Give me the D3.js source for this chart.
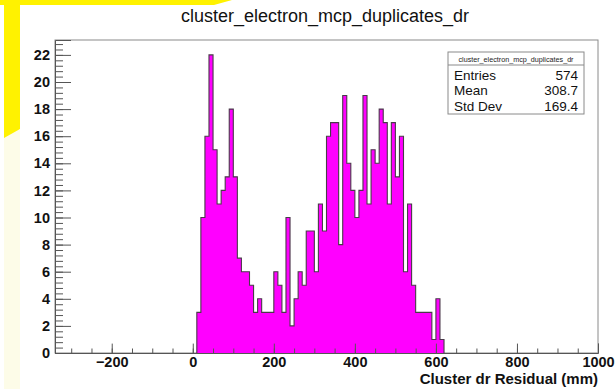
<!DOCTYPE html>
<html>
<head>
<meta charset="utf-8">
<script src="https://cdn.jsdelivr.net/npm/d3@7"></script>
<style>
    body { margin: 0; background: #ffffff; }
    text { font-family: "Liberation Sans", Arial, Helvetica, sans-serif; }
</style>
</head>
<body>
<script>
// histogram bins (lower edge, mm) and counts
const bin_low = [
    10, 20, 30, 40, 50, 60, 70, 80, 90, 100,
    110, 120, 130, 140, 150, 160, 170, 180, 190, 200,
    210, 220, 230, 240, 250, 260, 270, 280, 290, 300,
    310, 320, 330, 340, 350, 360, 370, 380, 390, 400,
    410, 420, 430, 440, 450, 460, 470, 480, 490, 500,
    510, 520, 530, 540, 550, 560, 570, 580, 590, 600,
    610
];
const bin_width = 10;
const counts = [
    3, 10, 16, 22, 15, 11, 12, 13, 18, 13,
    7, 6, 6, 5, 3, 4, 3, 3, 3, 6,
    5, 3, 10, 2, 4, 6, 5, 9, 9, 6,
    11, 9, 16, 17, 17, 8, 19, 14, 12, 10,
    12, 19, 11, 15, 14, 18, 17, 11, 17, 13,
    16, 6, 11, 5, 3, 3, 3, 3, 1, 4,
    1
];
const x_labels = [-200, 0, 200, 400, 600, 800, 1000];
const y_labels = [0, 2, 4, 6, 8, 10, 12, 14, 16, 18, 20, 22];
const stat_names = ["Entries", "Mean", "Std Dev"];
const stat_values = ["574", "308.7", "169.4"];

const title = "cluster_electron_mcp_duplicates_dr";
const x_title = "Cluster dr Residual (mm)";

const width = 615;
const height = 389;
const frame = { left: 55, right: 598, top: 40, bottom: 353 };

const svg = d3
    .select("body")
    .append("svg")
    .attr("width", width)
    .attr("height", height);

// yellow marks in the corner of the screenshot
svg.append("polygon")
    .attr("points", "4,130 20,130 20,389 4,389")
    .attr("fill", "#fdfce8");
svg.append("polygon")
    .attr("points", "0,0 232,0 214,5 20,5 20,129 4,138 4,5 0,5")
    .attr("fill", "#fff200");

svg.append("text")
    .attr("x", 325)
    .attr("y", 22)
    .attr("text-anchor", "middle")
    .attr("font-size", 18)
    .attr("fill", "#111")
    .text(title);

const x = d3.scaleLinear()
    .domain([-340, 1000])
    .range([frame.left, frame.right]);
const y = d3.scaleLinear()
    .domain([0, 23.1])
    .range([frame.bottom, frame.top]);

svg.append("rect")
    .attr("x", frame.left)
    .attr("y", frame.top)
    .attr("width", frame.right - frame.left)
    .attr("height", frame.bottom - frame.top)
    .attr("fill", "white")
    .attr("stroke", "#8a8a8a")
    .attr("stroke-width", 1);

// histogram
const pts = bin_low.map((b, i) => [b, counts[i]]);
const last = bin_low.length - 1;
pts.push([bin_low[last] + bin_width, counts[last]]);

const area = d3.area()
    .x(d => x(d[0]))
    .y0(y(0))
    .y1(d => y(d[1]))
    .curve(d3.curveStepAfter);
const line = d3.line()
    .x(d => x(d[0]))
    .y(d => y(d[1]))
    .curve(d3.curveStepAfter);

svg.append("path")
    .attr("d", area(pts))
    .attr("fill", "#ff00ff");
svg.append("path")
    .attr("d", line([[bin_low[0], 0], ...pts, [bin_low[last] + bin_width, 0]]))
    .attr("fill", "none")
    .attr("stroke", "#4a3a4a")
    .attr("stroke-width", 1.1);

// x axis
const x_minor = d3.range(-300, 1001, 50);
svg.append("g")
    .attr("transform", `translate(0,${frame.bottom})`)
    .call(d3.axisBottom(x).tickValues(x_minor).tickSize(-4.5).tickFormat(""))
    .call(g => g.select(".domain").remove())
    .call(g => g.selectAll("line").attr("stroke", "#555"));
const x_axis = svg.append("g")
    .attr("transform", `translate(0,${frame.bottom})`)
    .call(d3.axisBottom(x).tickValues(x_labels).tickSize(-9.4).tickPadding(4)
        .tickFormat(d => d < 0 ? "\u2212" + Math.abs(d) : d))
    .call(g => g.select(".domain").attr("stroke", "#555"));
x_axis.selectAll("line").attr("stroke", "#555");
x_axis.selectAll("text")
    .attr("font-size", 14.5)
    .attr("font-weight", "bold")
    .attr("fill", "#111")
    .attr("font-family", "Liberation Sans, Arial, sans-serif");

// y axis
const y_minor = d3.range(0, 23.1, 0.4);
svg.append("g")
    .attr("transform", `translate(${frame.left},0)`)
    .call(d3.axisLeft(y).tickValues(y_minor).tickSize(-8).tickFormat(""))
    .call(g => g.select(".domain").remove())
    .call(g => g.selectAll("line").attr("stroke", "#555"));
const y_axis = svg.append("g")
    .attr("transform", `translate(${frame.left},0)`)
    .call(d3.axisLeft(y).tickValues(y_labels).tickSize(-16).tickPadding(5))
    .call(g => g.select(".domain").attr("stroke", "#555"));
y_axis.selectAll("line").attr("stroke", "#555");
y_axis.selectAll("text")
    .attr("font-size", 14.5)
    .attr("font-weight", "bold")
    .attr("fill", "#111")
    .attr("font-family", "Liberation Sans, Arial, sans-serif");

svg.append("text")
    .attr("x", frame.right)
    .attr("y", 384)
    .attr("text-anchor", "end")
    .attr("font-size", 15)
    .attr("font-weight", "bold")
    .attr("fill", "#111")
    .text(x_title);

// stats box
const box = { x: 448, y: 52, w: 136, h: 62, head: 13, row: 15.7 };
const stats = svg.append("g").attr("id", "stats");
stats.append("rect")
    .attr("x", box.x)
    .attr("y", box.y)
    .attr("width", box.w)
    .attr("height", box.h)
    .attr("fill", "white")
    .attr("stroke", "#8a8a8a");
stats.append("line")
    .attr("x1", box.x)
    .attr("x2", box.x + box.w)
    .attr("y1", box.y + box.head)
    .attr("y2", box.y + box.head)
    .attr("stroke", "#8a8a8a");
stats.append("text")
    .attr("x", box.x + box.w / 2)
    .attr("y", box.y + 9.5)
    .attr("text-anchor", "middle")
    .attr("font-size", 7.2)
    .attr("fill", "#222")
    .text(title);
stats.selectAll("text.name")
    .data(stat_names)
    .join("text")
    .attr("class", "name")
    .attr("x", box.x + 6)
    .attr("y", (d, i) => box.y + box.head + 14.5 + i * box.row)
    .attr("font-size", 13.5)
    .attr("fill", "#111")
    .text(d => d);
stats.selectAll("text.value")
    .data(stat_values)
    .join("text")
    .attr("class", "value")
    .attr("x", box.x + box.w - 6)
    .attr("y", (d, i) => box.y + box.head + 14.5 + i * box.row)
    .attr("text-anchor", "end")
    .attr("font-size", 13.5)
    .attr("fill", "#111")
    .text(d => d);
</script>
</body>
</html>
